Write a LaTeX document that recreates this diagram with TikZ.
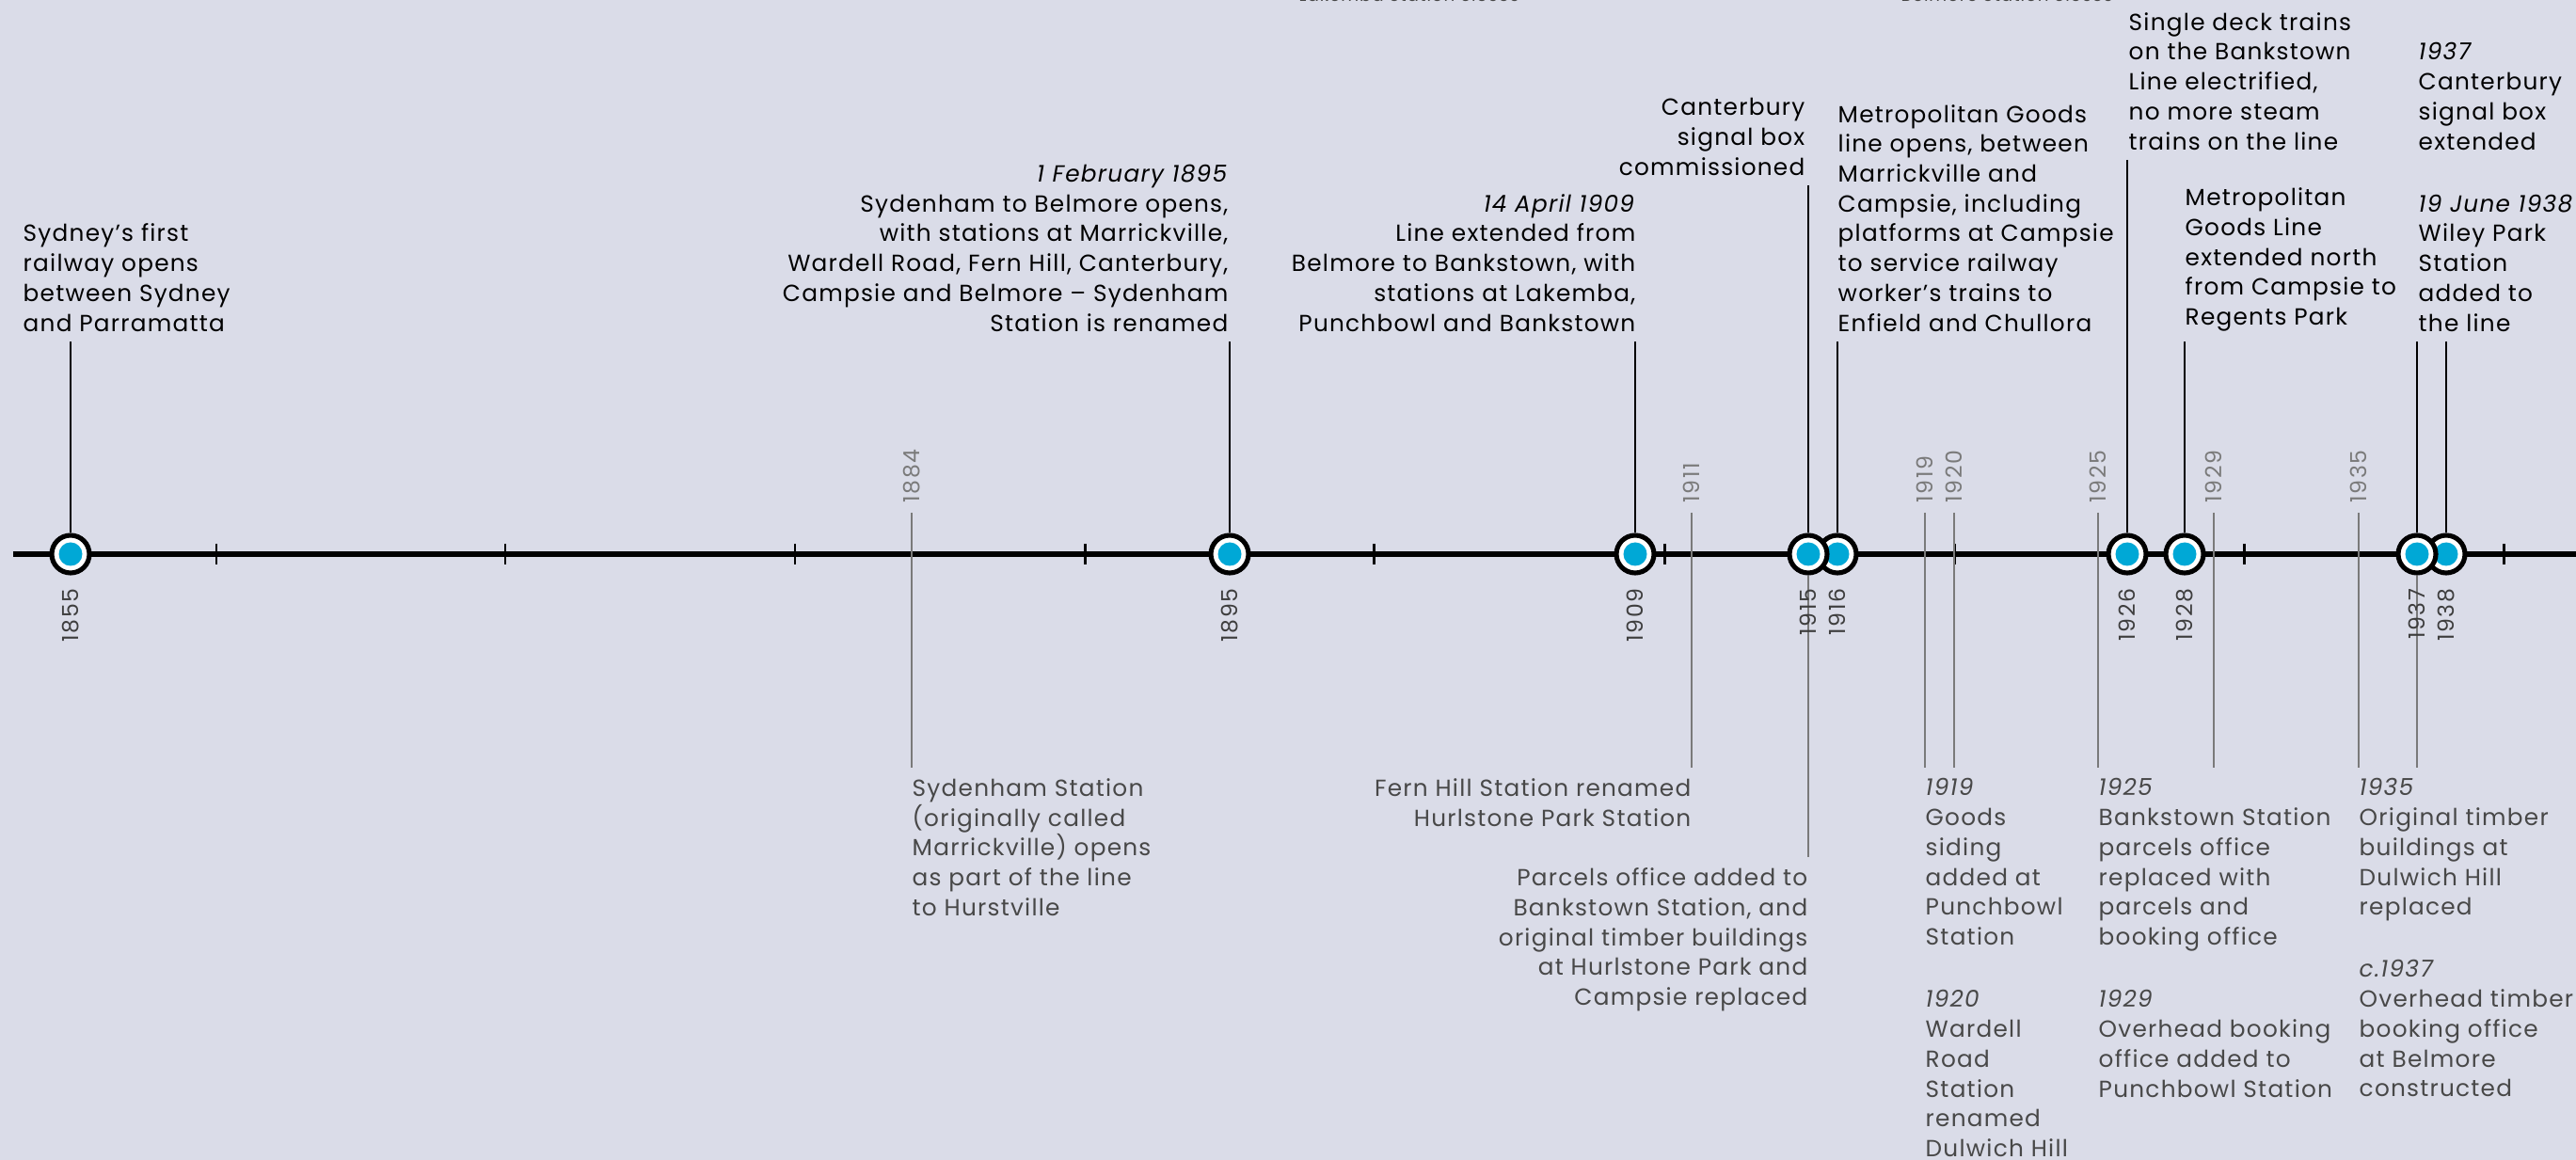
\documentclass[tikz,border=0pt]{standalone}
\usepackage{fontspec}
\setmainfont{Poppins}[LetterSpace=5]
\newfontfamily\yearfont[LetterSpace=7]{Poppins}
\usepackage{xcolor}
\usepackage{tikz}
\usetikzlibrary{positioning, calc}

\definecolor{bgcol}{RGB}{218,220,232}
\definecolor{dotblue}{RGB}{0,168,214}
\definecolor{notegray}{RGB}{72,72,72}
\definecolor{linegray}{RGB}{122,122,122}
\definecolor{yeargray}{RGB}{62,62,62}

\begin{document}
\begin{tikzpicture}[
    event/.style={circle, draw=black, line width=1.45pt, fill=white, minimum size=0.4cm, inner sep=0pt,
        path picture={\fill[dotblue] (path picture bounding box.center) circle (0.125);}},
    upnote/.style={inner sep=0pt, font=\fontsize{7.05}{9.02}\selectfont, text=black},
    downnote/.style={inner sep=0pt, font=\fontsize{7.05}{9.02}\selectfont, text=notegray},
    cutnote/.style={inner sep=0pt, font=\fontsize{5.2}{6}\selectfont, text=notegray},
    yearbelow/.style={rotate=90, anchor=east, inner sep=0pt, font=\fontsize{6.7}{8}\yearfont, text=yeargray},
    yearabove/.style={rotate=90, anchor=west, inner sep=0pt, font=\fontsize{6.7}{8}\yearfont, text=linegray},
    axisline/.style={line width=1.45pt},
    tickmark/.style={line width=0.85pt},
    stem/.style={line width=0.6pt, shorten <=0.1cm},
    grayline/.style={draw=linegray, line width=0.6pt, shorten >=0.11cm}
]
\useasboundingbox (0,0) rectangle (27.38,-12.33);
\fill[bgcol] (0,0) rectangle (27.38,-12.33);

% Time axis and decade ticks
\draw[axisline] (0.14,-5.89) -- (27.45,-5.89);
\draw[tickmark] (2.30,-5.78) -- (2.30,-6.00);
\draw[tickmark] (5.37,-5.78) -- (5.37,-6.00);
\draw[tickmark] (8.45,-5.78) -- (8.45,-6.00);
\draw[tickmark] (11.53,-5.78) -- (11.53,-6.00);
\draw[tickmark] (14.60,-5.78) -- (14.60,-6.00);
\draw[tickmark] (17.69,-5.78) -- (17.69,-6.00);
\draw[tickmark] (20.77,-5.78) -- (20.77,-6.00);
\draw[tickmark] (23.85,-5.78) -- (23.85,-6.00);
\draw[tickmark] (26.61,-5.78) -- (26.61,-6.00);

% Events on the line
\node[event] (e1855) at (0.75,-5.89) {};
\node[event] (e1895) at (13.07,-5.89) {};
\node[event] (e1909) at (17.38,-5.89) {};
\node[event] (e1916) at (19.53,-5.89) {};
\node[event] (e1915) at (19.22,-5.89) {};
\node[event] (e1926) at (22.61,-5.89) {};
\node[event] (e1928) at (23.22,-5.89) {};
\node[event] (e1938) at (26.00,-5.89) {};
\node[event] (e1937) at (25.69,-5.89) {};

% Notes above the line
\node[upnote, align=left, anchor=south west] (t1855) at (0.24,-3.53) {Sydney’s first\\railway opens\\between Sydney\\and Parramatta};
\node[upnote, align=right, anchor=south east] (t1895) at (13.06,-3.53) {\textit{1 February 1895}\\Sydenham to Belmore opens,\\with stations at Marrickville,\\Wardell Road, Fern Hill, Canterbury,\\Campsie and Belmore – Sydenham\\Station is renamed};
\node[upnote, align=right, anchor=south east] (t1909) at (17.39,-3.53) {\textit{14 April 1909}\\Line extended from\\Belmore to Bankstown, with\\stations at Lakemba,\\Punchbowl and Bankstown};
\node[upnote, align=right, anchor=south east] (t1915) at (19.19,-1.87) {Canterbury\\signal box\\commissioned};
\node[upnote, align=left, anchor=south west] (t1916) at (19.53,-3.53) {Metropolitan Goods\\line opens, between\\Marrickville and\\Campsie, including\\platforms at Campsie\\to service railway\\worker’s trains to\\Enfield and Chullora};
\node[upnote, align=left, anchor=south west] (t1926) at (22.62,-1.60) {Single deck trains\\on the Bankstown\\Line electrified,\\no more steam\\trains on the line};
\node[upnote, align=left, anchor=south west] (t1928) at (23.22,-3.53) {Metropolitan\\Goods Line\\extended north\\from Campsie to\\Regents Park};
\node[upnote, align=left, anchor=south west] (t1937) at (25.70,-1.60) {\textit{1937}\\Canterbury\\signal box\\extended};
\node[upnote, align=left, anchor=south west] (t1938) at (25.70,-3.53) {\textit{19 June 1938}\\Wiley Park\\Station\\added to\\the line};
\node[cutnote, anchor=base west] (tLakemba) at (13.80,-0.02) {Lakemba Station closes};
\node[cutnote, anchor=base west] (tBelmore) at (20.20,-0.02) {Belmore Station closes};

% Years of the notes below the line
\node[yearabove] (y1884) at (9.69,-5.35) {1884};
\node[yearabove] (y1911) at (17.98,-5.35) {1911};
\node[yearabove] (y1919) at (20.46,-5.35) {1919};
\node[yearabove] (y1920) at (20.77,-5.35) {1920};
\node[yearabove] (y1925) at (22.30,-5.35) {1925};
\node[yearabove] (y1929) at (23.53,-5.35) {1929};
\node[yearabove] (y1935) at (25.07,-5.35) {1935};

% Notes below the line
\node[downnote, align=left, anchor=north west] (b1884) at (9.69,-8.27) {Sydenham Station\\(originally called\\Marrickville) opens\\as part of the line\\to Hurstville};
\node[downnote, align=right, anchor=north east] (b1911) at (17.98,-8.27) {Fern Hill Station renamed\\Hurlstone Park Station};
\node[downnote, align=right, anchor=north east] (b1915) at (19.22,-9.22) {Parcels office added to\\Bankstown Station, and\\original timber buildings\\at Hurlstone Park and\\Campsie replaced};
\node[downnote, align=left, anchor=north west] (b1919) at (20.46,-8.27) {\textit{1919}\\Goods\\siding\\added at\\Punchbowl\\Station};
\node[downnote, align=left, anchor=north west] (b1920) at (20.46,-10.52) {\textit{1920}\\Wardell\\Road\\Station\\renamed\\Dulwich Hill};
\node[downnote, align=left, anchor=north west] (b1925) at (22.30,-8.27) {\textit{1925}\\Bankstown Station\\parcels office\\replaced with\\parcels and\\booking office};
\node[downnote, align=left, anchor=north west] (b1929) at (22.30,-10.52) {\textit{1929}\\Overhead booking\\office added to\\Punchbowl Station};
\node[downnote, align=left, anchor=north west] (b1935) at (25.07,-8.27) {\textit{1935}\\Original timber\\buildings at\\Dulwich Hill\\replaced};
\node[downnote, align=left, anchor=north west] (bc1937) at (25.07,-10.20) {\textit{c.1937}\\Overhead timber\\booking office\\at Belmore\\constructed};

% Connections
\draw[stem] (t1855.south -| e1855) -- (e1855);
\draw[stem] (t1895.south -| e1895) -- (e1895);
\draw[stem] (t1909.south -| e1909) -- (e1909);
\draw[stem] (t1915.south -| e1915) -- (e1915);
\draw[stem] (t1916.south -| e1916) -- (e1916);
\draw[stem] (t1926.south -| e1926) -- (e1926);
\draw[stem] (t1928.south -| e1928) -- (e1928);
\draw[stem] (t1938.south -| e1937) -- (e1937);
\draw[stem] (t1938.south -| e1938) -- (e1938);

\draw[grayline, shorten <=0.1cm] (y1884) -- (y1884 |- b1884.north);
\draw[grayline, shorten <=0.1cm] (y1911) -- (y1911 |- b1911.north);
\draw[grayline, shorten <=0.1cm] (y1919) -- (y1919 |- b1919.north);
\draw[grayline, shorten <=0.1cm] (y1920) -- (y1920 |- b1919.north);
\draw[grayline, shorten <=0.1cm] (y1925) -- (y1925 |- b1925.north);
\draw[grayline, shorten <=0.1cm] (y1929) -- (y1929 |- b1925.north);
\draw[grayline, shorten <=0.1cm] (y1935) -- (y1935 |- b1935.north);
\draw[grayline] (e1915) -- (e1915 |- b1915.north);
\draw[grayline] (e1937) -- (e1937 |- b1935.north);

% Years of the events
\node[yearbelow] (l1855) at (0.75,-6.25) {1855};
\node[yearbelow] (l1895) at (13.07,-6.25) {1895};
\node[yearbelow] (l1909) at (17.38,-6.25) {1909};
\node[yearbelow] (l1915) at (19.22,-6.25) {1915};
\node[yearbelow] (l1916) at (19.53,-6.25) {1916};
\node[yearbelow] (l1926) at (22.61,-6.25) {1926};
\node[yearbelow] (l1928) at (23.22,-6.25) {1928};
\node[yearbelow] (l1937) at (25.69,-6.25) {1937};
\node[yearbelow] (l1938) at (26.00,-6.25) {1938};

\end{tikzpicture}
\end{document}
